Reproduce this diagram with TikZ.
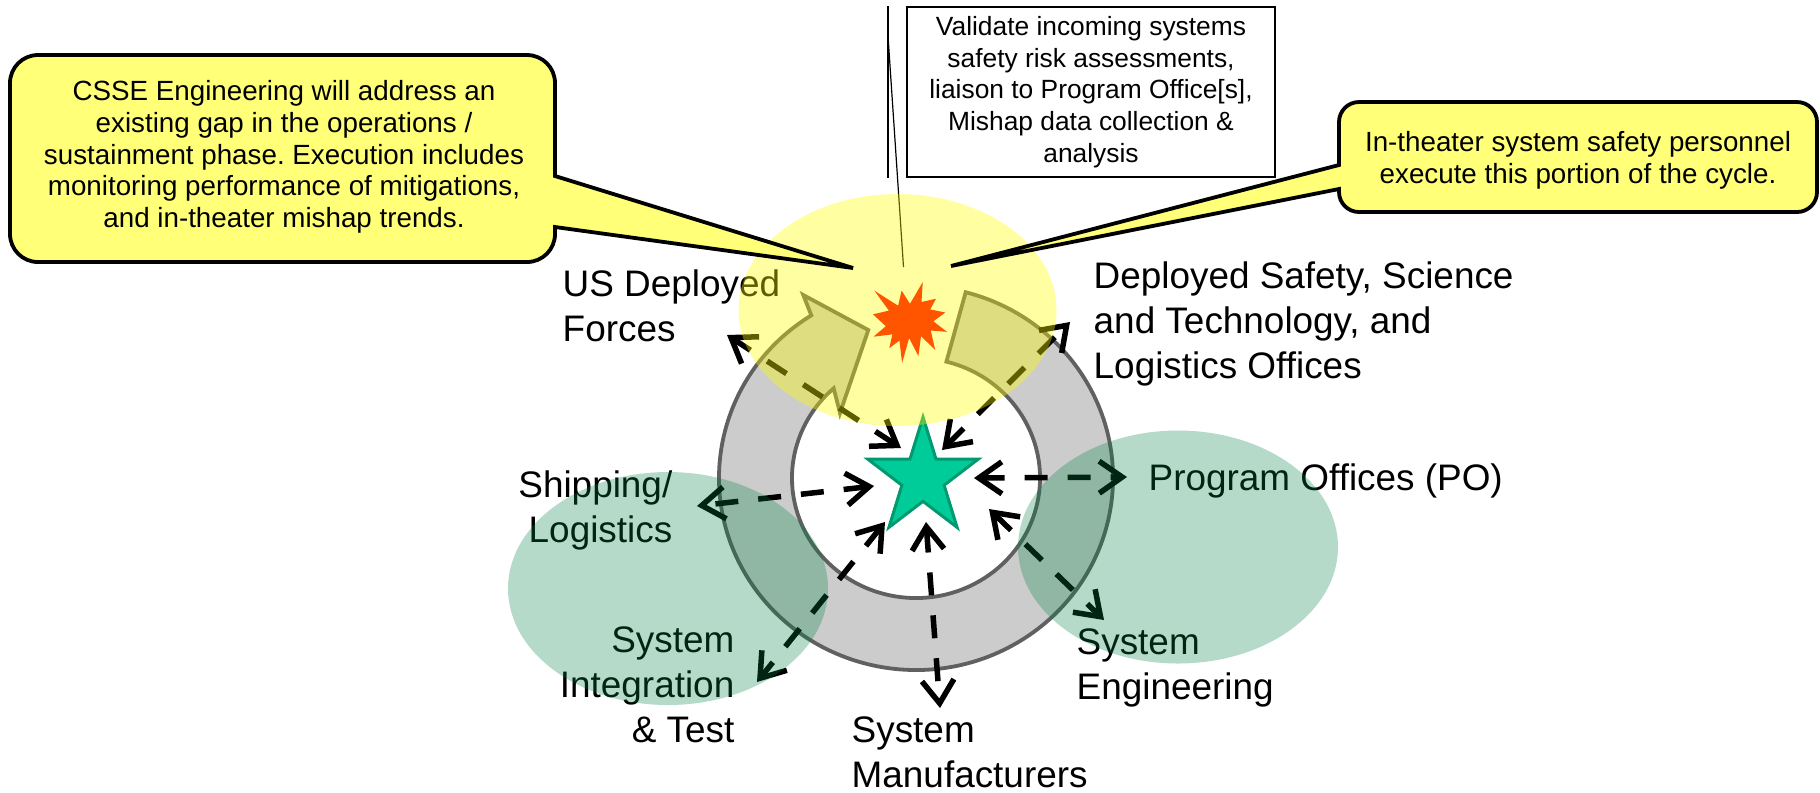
\documentclass[tikz,border=0pt]{standalone}
\usepackage{fontspec}
\setmainfont{Liberation Sans}
\usetikzlibrary{arrows.meta}
\definecolor{ringfill}{RGB}{204,204,204}
\definecolor{ringline}{RGB}{96,96,96}
\definecolor{callfill}{RGB}{255,255,120}
\definecolor{starfill}{RGB}{0,204,153}
\definecolor{starline}{RGB}{0,153,112}
\definecolor{burstcol}{RGB}{255,85,0}
\definecolor{hiyellow}{RGB}{255,255,0}
\definecolor{higreen}{RGB}{0,129,68}
\frenchspacing
\begin{document}
\begin{tikzpicture}[x=0.1mm,y=-0.1mm,
  lbl/.style={font=\fontsize{10.5}{12.8}\selectfont, inner sep=0pt},
  calltext/.style={font=\fontsize{7.9}{9}\selectfont, align=center, inner sep=0pt},
  callshape/.style={fill=callfill, draw=black, line width=0.38mm},
  link/.style={line width=0.55mm, dash pattern=on 2.3mm off 2mm,
     {Straight Barb[length=2.3mm,width=3.2mm]}-{Straight Barb[length=2.3mm,width=3.2mm]}},
  ringshape/.style={fill=ringfill, draw=ringline, line width=0.38mm},
  yglow/.style={fill=hiyellow, fill opacity=0.37},
  gglow/.style={fill=higreen, fill opacity=0.29}
]
\useasboundingbox (0,0) rectangle (1820,792);

% ring (circular arrow)
\begin{scope}[shift={(916,478)}]
\filldraw[ringshape] (-122.1:197 and 192)
  arc[start angle=-122.1, end angle=-435.4, x radius=197, y radius=192]
  -- (-75.8:124 and 120)
  arc[start angle=-75.8, end angle=228.4, x radius=124, y radius=120]
  -- (-76,-65) -- (-47.7,-148) -- (-112.7,-183) -- cycle;
\end{scope}

% star
\begin{scope}[shift={(923,478)}]
\coordinate (starc) at (0,0);
\filldraw[fill=starfill, draw=starline, line width=0.3mm]
  (-90:58 and 61) -- (-126:22.2 and 23.3) -- (-162:58 and 61) -- (-198:22.2 and 23.3)
  -- (-234:58 and 61) -- (-270:22.2 and 23.3) -- (-306:58 and 61) -- (-342:22.2 and 23.3)
  -- (-378:58 and 61) -- (-414:22.2 and 23.3) -- cycle;
\end{scope}

% arrow ends
\coordinate (s1) at (901,448); \coordinate (e1) at (727,335);
\coordinate (s2) at (942,450); \coordinate (e2) at (1070,322);
\coordinate (s3) at (974,478); \coordinate (e3) at (1127,477);
\coordinate (s4) at (989,509); \coordinate (e4) at (1104,620);
\coordinate (s5) at (926,522); \coordinate (e5) at (940,708);
\coordinate (s6) at (885,522); \coordinate (e6) at (757,682);
\coordinate (s7) at (874,486); \coordinate (e7) at (697,506);
\draw[link] (s1) -- (e1);
\draw[link] (s2) -- (e2);
\draw[link] (s3) -- (e3);
\draw[link] (s4) -- (e4);
\draw[link] (s5) -- (e5);
\draw[link] (s6) -- (e6);
\draw[link] (s7) -- (e7);

% labels
\node[lbl, anchor=west, align=left] (usdf) at (562,306) {US Deployed\\Forces};
\node[lbl, anchor=west, align=left] (dsst) at (1093,324) {Deployed Safety, Science\\and Technology, and\\Logistics Offices};
\node[lbl, anchor=east, align=right] (ship) at (673,510) {Shipping/\\Logistics};
\node[lbl, anchor=base west] (po) at (1148,490) {Program Offices (PO)};
\node[lbl, anchor=east, align=right] (sit) at (735,685) {System\\Integration\\\& Test};
\node[lbl, anchor=west, align=left] (sm) at (851,752) {System\\Manufacturers};
\node[lbl, anchor=west, align=left] (se) at (1076,668) {System\\Engineering};

% top text box with accent bar and leader
\node[draw, line width=0.2mm, fill=white, minimum width=36.8mm, minimum height=17mm,
      inner sep=0pt, font=\fontsize{7.5}{9}\selectfont, align=center] (vbox) at (1091,92)
  {Validate incoming systems\\safety risk assessments,\\liaison to Program Office[s],\\Mishap data collection \&\\analysis};
\draw[line width=0.2mm] ([xshift=-1.8mm]vbox.north west) -- ([xshift=-1.8mm]vbox.south west);
\coordinate (ldr) at (903.5,267);
\draw[line width=0.12mm] ([xshift=-1.8mm,yshift=-3mm]vbox.north west) -- (ldr);

% translucent highlights
\fill[yglow] (897.5,310) ellipse [x radius=159, y radius=116];
\fill[gglow] (668,588.5) ellipse [x radius=160, y radius=116.5];
\fill[gglow] (1178,547) ellipse [x radius=160, y radius=116.5];

% starburst
\fill[burstcol] (910.0,303.75) -- (922.75,282) -- (921.5,302.0) -- (936.0,298.7)
  -- (930.2,309.4) -- (945.3,312.5) -- (933.3,321.3) -- (947.0,331.8) -- (930.7,330.5)
  -- (935.2,349.9) -- (921.0,336.2) -- (918.4,356.0) -- (909.1,338.0) -- (902.1,363.0)
  -- (899.4,340.6) -- (889.3,348.1) -- (892.4,334.3) -- (873.5,336.7) -- (885.8,326.2)
  -- (873.0,314.3) -- (888.9,310.6) -- (874.3,290.6) -- (898.1,305.7) -- (901.6,290.6) -- cycle;

% callouts
\coordinate (ltip) at (853,268);
\coordinate (rtip) at (951,266);
\filldraw[callshape] (38,55) -- (527,55) arc[start angle=-90, end angle=0, radius=28]
  -- (555,176) -- (ltip) -- (555,227) -- (555,234) arc[start angle=0, end angle=90, radius=28]
  -- (38,262) arc[start angle=90, end angle=180, radius=28]
  -- (10,83) arc[start angle=180, end angle=270, radius=28] -- cycle;
\node[calltext] (ltext) at (284,157)
  {CSSE Engineering will address an\\existing gap in the operations /\\sustainment phase. Execution includes\\monitoring performance of mitigations,\\and in-theater mishap trends.};
\filldraw[callshape] (1359,102) -- (1797,102) arc[start angle=-90, end angle=0, radius=20]
  -- (1817,192) arc[start angle=0, end angle=90, radius=20]
  -- (1359,212) arc[start angle=90, end angle=180, radius=20]
  -- (1339,189) -- (rtip) -- (1339,165)
  -- (1339,122) arc[start angle=180, end angle=270, radius=20] -- cycle;
\node[calltext] (rtext) at (1578,160)
  {In-theater system safety personnel\\execute this portion of the cycle.};
\end{tikzpicture}
\end{document}
